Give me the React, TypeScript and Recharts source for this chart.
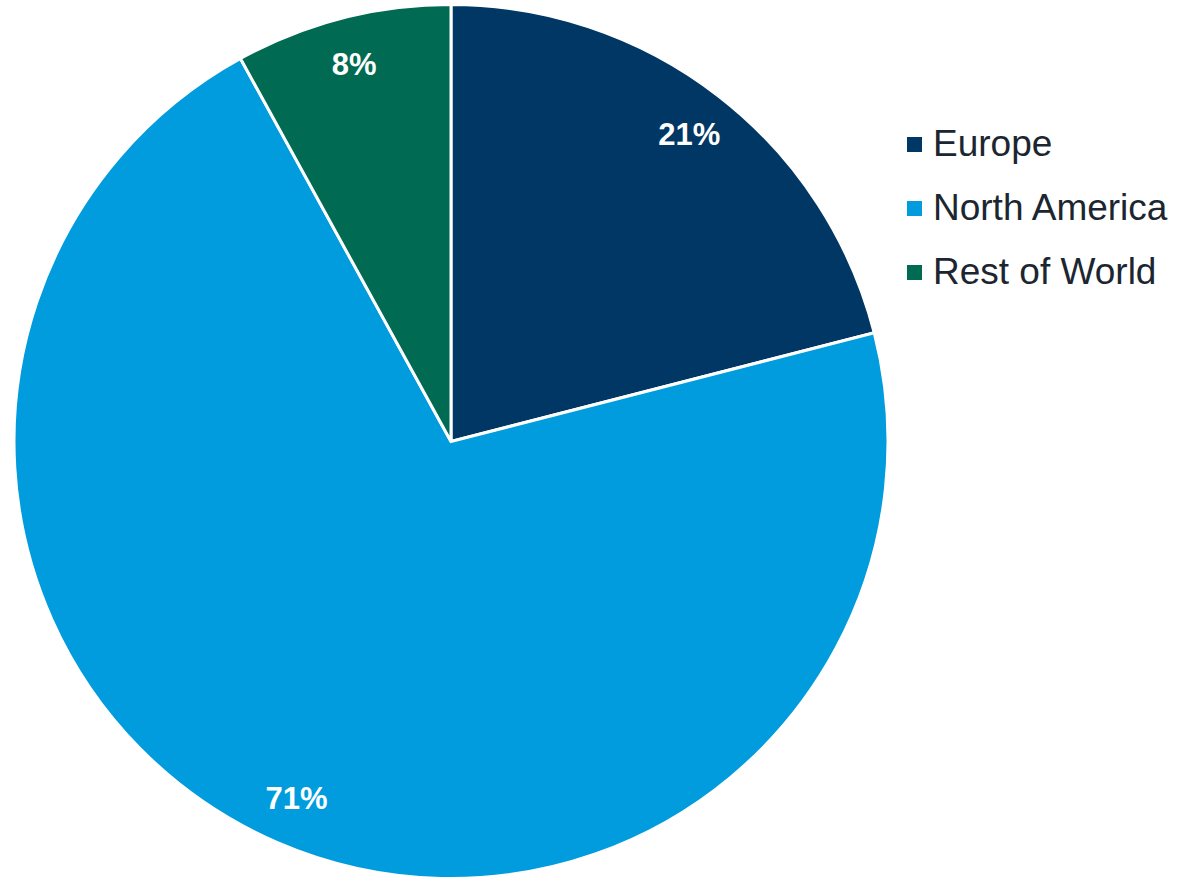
import { PieChart, Pie, Cell, Legend } from 'recharts';

const regions = ['Europe', 'North America', 'Rest of World'];
const shares = [21, 71, 8];
const COLORS = ['#003764', '#009CDE', '#006A52'];

const data = regions.map((name, i) => ({ name, value: shares[i] }));

const RADIAN = Math.PI / 180;

const renderLabel = ({ cx, cy, midAngle, outerRadius, value }: any) => {
  const r = outerRadius * 0.89;
  const x = cx + r * Math.cos(-midAngle * RADIAN);
  const y = cy + r * Math.sin(-midAngle * RADIAN);
  return (
    <text
      x={x}
      y={y}
      fill="#ffffff"
      textAnchor="middle"
      dominantBaseline="central"
      fontFamily="'Liberation Sans', Arial, sans-serif"
      fontWeight="bold"
      fontSize={31}
    >
      {`${value}%`}
    </text>
  );
};

const renderLegend = () => (
  <div style={{ fontFamily: "'Liberation Sans', Arial, sans-serif" }}>
    {data.map((d, i) => (
      <div key={d.name} style={{ display: 'flex', alignItems: 'center', height: 64 }}>
        <span
          style={{
            display: 'inline-block',
            width: 15,
            height: 15,
            background: COLORS[i],
            marginRight: 11,
          }}
        />
        <span style={{ fontSize: 37, color: '#1b2631' }}>{d.name}</span>
      </div>
    ))}
  </div>
);

export default function App() {
  return (
    <div style={{ position: 'absolute', left: 0, top: 0, background: '#fff' }}>
      <PieChart width={1178} height={879} margin={{ top: 0, right: 0, bottom: 0, left: 0 }}>
        <Pie
          data={data}
          dataKey="value"
          nameKey="name"
          cx={451}
          cy={441.5}
          outerRadius={437}
          startAngle={90}
          endAngle={-270}
          stroke="#ffffff"
          strokeWidth={3}
          label={renderLabel}
          labelLine={false}
          isAnimationActive={false}
        >
          {data.map((entry, index) => (
            <Cell key={`cell-${index}`} fill={COLORS[index]} />
          ))}
        </Pie>
        <Legend
          content={renderLegend}
          layout="vertical"
          wrapperStyle={{ position: 'absolute', left: 907, top: 112, width: 271 }}
        />
      </PieChart>
    </div>
  );
}
